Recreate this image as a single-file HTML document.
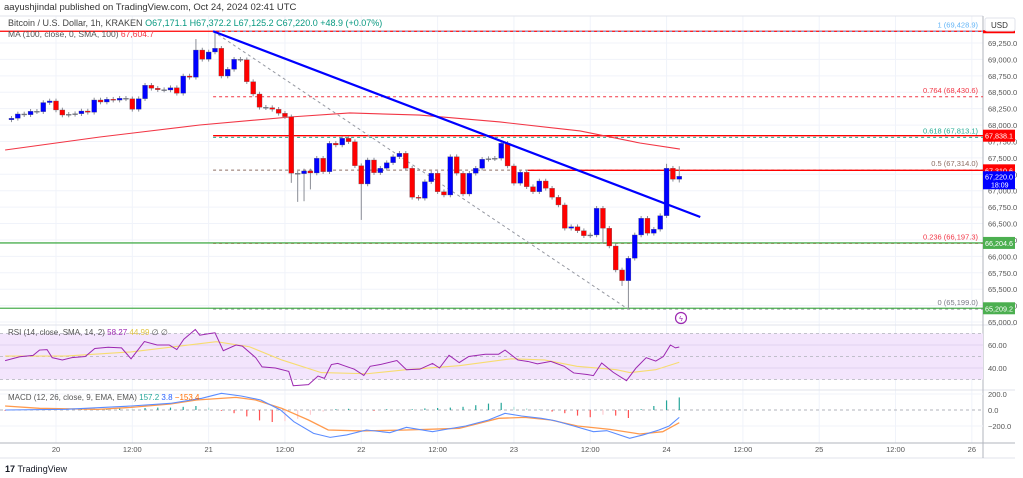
<!DOCTYPE html>
<html><head><meta charset="utf-8">
<style>
html,body{margin:0;padding:0;background:#fff;width:1023px;height:478px;overflow:hidden;font-family:"Liberation Sans",sans-serif;}
svg text{font-family:"Liberation Sans",sans-serif;}
</style></head>
<body>
<svg id="chart" width="1023" height="478" viewBox="0 0 1023 478" xmlns="http://www.w3.org/2000/svg">
<rect x="0" y="0" width="1023" height="478" fill="#ffffff"/>
<text x="4" y="10" font-size="9.5" fill="#333">aayushjindal published on TradingView.com, Oct 24, 2024 02:41 UTC</text>
<g id="grid"></g>
<g id="levels"></g>
<g id="candles"></g>
<g id="lower"></g>
<g id="axis"></g>
<text x="8" y="26" font-size="9" fill="#444">Bitcoin / U.S. Dollar, 1h, KRAKEN <tspan fill="#089981">O67,171.1 H67,372.2 L67,125.2 C67,220.0 +48.9 (+0.07%)</tspan></text>
<text x="8" y="37" font-size="8.5" fill="#555">MA (100, close, 0, SMA, 100) <tspan fill="#f23645">67,604.7</tspan></text>
<text x="8" y="335" font-size="8" fill="#555">RSI (14, close, SMA, 14, 2) <tspan fill="#9c27b0">58.27</tspan> <tspan fill="#e0c341">44.99</tspan> ∅ ∅</text>
<text x="8" y="400" font-size="8" fill="#555">MACD (12, 26, close, 9, EMA, EMA) <tspan fill="#26a69a">157.2</tspan> <tspan fill="#2962ff">3.8</tspan> <tspan fill="#ff6d00">−153.4</tspan></text>
<text x="5" y="472" font-size="9" fill="#131722" font-weight="bold">17 <tspan font-weight="normal">TradingView</tspan></text>
<g><rect x="985" y="18" width="30" height="13" fill="#fff" stroke="#e0e3eb" rx="2"/><text x="991" y="28" font-size="8" fill="#333">USD</text></g>
<circle cx="681" cy="318" r="5.5" fill="none" stroke="#9c27b0" stroke-width="1.2"/>
<text x="681" y="321" font-size="7" fill="#9c27b0" text-anchor="middle">ϟ</text>
</svg>
<script>
// ---- data ----
const closes=[68103,68169,68158,68210,68204,68343,68367,68230,68153,68164,68173,68214,68195,68382,68351,68393,68380,68408,68400,68240,68402,68606,68560,68539,68534,68569,68484,68747,68728,69143,69002,69113,69169,68747,68849,69002,68995,68661,68473,68271,68265,68240,68179,68128,67266,67260,67301,67270,67494,67290,67722,67697,67799,67747,67381,67103,67468,67275,67342,67427,67518,67570,67342,66900,66885,67138,67266,66985,66935,67518,67266,66950,67266,67342,67479,67488,67494,67722,67377,67113,67281,67061,66985,67148,67037,66900,66783,66428,66452,66391,66315,66326,66732,66428,66158,65793,65630,65971,66326,66580,66352,66413,66620,67342,67174,67220];
const firstOpen=68080;
const highOverrides={32:69428.9,29:69310,105:67372.2,44:68160,103:67410};
const lowOverrides={97:65199,96:65550,44:67120,45:66830,46:66840,47:67020,55:66555,105:67125.2,93:66200};
const startHour=-7;
const maHours=[-8,6.9,22.6,36.8,46.2,57.2,69.8,82.4,91.8,98.1];
const maValues=[67620,67818,68001,68123,68184,68153,68047,67910,67727,67635];
const priceTicks=[65000,65250,65500,65750,66000,66250,66500,66750,67000,67250,67500,67750,68000,68250,68500,68750,69000,69250];
const timeHours=[0,12,24,36,48,60,72,84,96,108,120,132,144];
const timeLabels=["20","12:00","21","12:00","22","12:00","23","12:00","24","12:00","25","12:00","26"];
const fibLevels=[1,0.764,0.618,0.5,0.236,0];
const fibPrices=[69428.9,68430.6,67813.1,67314.0,66197.3,65199.0];
const fibColors=["#64b5f6","#f23645","#22ab94","#8d6e63","#f23645","#787b86"];
const rsiHours=[-8,-5.7,-3.6,-2.6,-1.4,-0.6,1,2.5,4.6,6.1,8.2,10.3,11.8,13.9,15.9,17.8,19,20.1,21.9,22.6,24.2,25,26.3,28.3,29.3,31.4,32.4,34.5,36.6,37.3,39.7,41.2,42.2,43.3,44.3,45.3,46.9,48.4,49.4,51,53.6,55.1,57.2,59.2,60.3,61.8,63.4,64.9,67.5,69.6,70.6,72.6,74.2,75.7,77.8,79.9,81.4,83.5,84.5,85.8,87.6,89.7,91.2,92.8,94.3,95.5,96.6,97.4,98];
const rsiValues=[46.4,49.8,51,55.6,56,49,47,49,50,57,58,57.5,48,63,60,60,56,65,73.5,68.5,70,70.6,55,60,59,49,41,40,37,24.6,25.5,33,31,43,44,42,39,33.5,41.5,43,46.5,38.5,39,44,40,51,44.7,50,52,52,55.6,47,45.7,43.6,45.7,41.5,35.7,34.3,33.4,44.4,36.3,29,40,49,46,50,60,57.5,58.3];
const rsiMaHours=[-8,1.5,11.8,25.2,30.4,35.5,41.7,48.9,55.1,63.4,71.6,76.8,81.9,88.1,90.2,94.3,98];
const rsiMaValues=[50.4,50.4,54,62.9,58.5,47,36,35,38.5,42,48,47,41.5,38.5,36,38.5,45];
const macdHours=[-8,1.5,11.8,18,22.9,26,29.1,32.2,35.3,37.4,40.5,43.1,45.7,48.8,52.5,55.1,59.2,61.3,64.4,68,70.6,73.2,76.3,78.4,81.4,84.5,86.6,90.2,92.3,94.8,96.4,98];
const macdValues=[0,8,50,83,146,208,175,125,0,-146,-292,-342,-312,-250,-283,-217,-271,-242,-200,-125,-42,-75,-104,-133,-200,-271,-258,-354,-312,-250,-200,-92];
const signalHours=[-8,-2.6,6.6,11.8,18,22.1,28.3,31.4,35.5,39.7,42.8,48,55.1,63.4,69.6,73.7,77.8,82,87.1,91.8,95.4,98];
const signalValues=[50,21,8,33,75,125,158,125,21,-125,-250,-262,-250,-229,-104,-92,-125,-200,-242,-300,-271,-158];
const histHours=[-8,-6,-4,-2,0,2,4,6,8,10,12,14,16,18,20,22,24,26,28,30,32,34,36,38,40,42,44,46,48,50,52,54,56,58,60,62,64,66,68,70,72,74,76,78,80,82,84,86,88,90,92,94,96,98];
const histValues=[-10,-5,5,10,10,5,10,15,15,20,15,25,30,30,40,50,30,-10,-40,-80,-130,-150,-140,-110,-60,-20,10,15,0,-10,10,5,10,20,25,30,40,60,80,90,40,20,10,-20,-40,-70,-90,-60,-70,-100,10,50,120,157];
const macdTicks=[200,0,-200];
const macdTickLabels=["200.0","0.0","−200.0"];
const rsiTicks=[60,40];

// ---- scales ----
const NS="http://www.w3.org/2000/svg";
const AXIS_X=983;
const xH=h=>56+h*6.36;
const xI=i=>xH(startHour+i);
const yP=p=>43+(69250-p)*0.06565;
const yR=v=>345-(v-60)*1.15;
const yM=v=>410-v*0.08;
function el(tag,attrs,parent){const e=document.createElementNS(NS,tag);for(const k in attrs)e.setAttribute(k,attrs[k]);parent.appendChild(e);return e;}
const grid=document.getElementById('grid'),levels=document.getElementById('levels'),cg=document.getElementById('candles'),lower=document.getElementById('lower'),axis=document.getElementById('axis');

priceTicks.forEach(p=>{const l=el('line',{x1:0,x2:AXIS_X,y1:yP(p),y2:yP(p),stroke:'#f0f3fa','stroke-width':1},grid);

});
timeHours.forEach((h,k)=>{const l=el('line',{x1:xH(h),x2:xH(h),y1:16,y2:443,stroke:'#f0f3fa','stroke-width':1},grid);


const t=el('text',{x:xH(h),y:452,'font-size':7.5,fill:'#555','text-anchor':'middle'},axis);t.textContent=timeLabels[k];

});
[[0,16,AXIS_X,16],[0,325,1015,325],[0,390,1015,390],[0,443,1015,443],[0,458,1015,458],[AXIS_X,16,AXIS_X,458]].forEach(s=>{const l=el('line',{x1:s[0],y1:s[1],x2:s[2],y2:s[3],stroke:s[1]===443||s[0]===AXIS_X?'#b2b5be':'#e0e3eb','stroke-width':1},grid);

});

priceTicks.forEach(p=>{const t=el('text',{x:988,y:yP(p)+3,'font-size':7.5,fill:'#555'},axis);t.textContent=p.toLocaleString('en-US')+'.0';

});

const hl=(p,x0,color,w,dash)=>{const l=el('line',{x1:x0,x2:AXIS_X,y1:yP(p),y2:yP(p),stroke:color,'stroke-width':w},levels);if(dash)l.setAttribute('stroke-dasharray',dash);return l;};
let l1=hl(69428.9,0,'#ff0000',1.3);
const fibX=xH(24.7);
fibPrices.forEach((p,k)=>{const l=hl(p,fibX,fibColors[k],1,'3,3');


const t=el('text',{x:978,y:yP(p)-4,'font-size':7.5,fill:fibColors[k],'text-anchor':'end'},levels);t.textContent=fibLevels[k]+' ('+p.toLocaleString('en-US',{minimumFractionDigits:1})+')';

});
let l2=hl(67838.1,fibX,'#ff0000',1.3);
let l3=hl(67310.6,xH(74.2),'#ff0000',1.3);
let l4=hl(66204.6,0,'#4caf50',1.3);
let l5=hl(65209.2,0,'#4caf50',1.3);

const maPath=el('polyline',{points:maHours.map((h,k)=>xH(h)+','+yP(maValues[k])).join(' '),fill:'none',stroke:'#f23645','stroke-width':1.1},levels);



const dg=el('line',{x1:fibX,y1:yP(69428.9),x2:xH(89.9),y2:yP(65199),stroke:'#9598a1','stroke-width':1,'stroke-dasharray':'3,3'},levels);



let prev=firstOpen;
closes.forEach((c,i)=>{const o=prev;prev=c;const x=xI(i);
const hi=highOverrides[i]!==undefined?highOverrides[i]:Math.max(o,c)+35;
const lo=lowOverrides[i]!==undefined?lowOverrides[i]:Math.min(o,c)-35;
const up=c>=o;const col=Math.abs(c-o)<12?'#787b86':(up?'#0000ff':'#ff0000');
const w=el('line',{x1:x,x2:x,y1:yP(hi),y2:yP(lo),stroke:'#8a8d96','stroke-width':1},cg);


const top=yP(Math.max(o,c)),bh=Math.max(1,yP(Math.min(o,c))-top);
const b=el('rect',{x:x-2.5,y:top,width:5,height:bh,fill:col,stroke:'#5d606b','stroke-width':0.3},cg);

});

const tl=el('line',{x1:fibX,y1:yP(69428.9),x2:xH(101.3),y2:yP(66600),stroke:'#0000ff','stroke-width':2.2},cg);



[[67838.1,'#ff0000','67,838.1'],[67310.6,'#ff0000','67,310.6'],[66204.6,'#4caf50','66,204.6'],[65209.2,'#4caf50','65,209.2']].forEach(b=>{const y=yP(b[0]);
const r=el('rect',{x:AXIS_X,y:y-6,width:32,height:12,fill:b[1]},axis);


const t=el('text',{x:985,y:y+3,'font-size':7,fill:'#fff',textLength:28,lengthAdjust:'spacingAndGlyphs'},axis);t.textContent=b[2];

});
const tb=el('rect',{x:AXIS_X,y:yP(67220)-5,width:32,height:18,fill:'#0000ff'},axis);


const tt=el('text',{x:985,y:yP(67220)+3,'font-size':7,fill:'#fff',textLength:28,lengthAdjust:'spacingAndGlyphs'},axis);tt.textContent='67,220.0';


const tt2=el('text',{x:991,y:yP(67220)+11,'font-size':7,fill:'#fff'},axis);tt2.textContent='18:09';


const topBox=el('rect',{x:AXIS_X,y:yP(69428.9)-1,width:32,height:3,fill:'#ff0000'},axis);



const band=el('rect',{x:0,y:yR(70),width:AXIS_X,height:yR(30)-yR(70),fill:'#f3e5fc'},lower);


[70,50,30].forEach(v=>{const l=el('line',{x1:0,x2:AXIS_X,y1:yR(v),y2:yR(v),stroke:'#b0b3bb','stroke-width':0.8,'stroke-dasharray':'3,3'},lower);

});
rsiTicks.forEach(v=>{const l=el('line',{x1:0,x2:AXIS_X,y1:yR(v),y2:yR(v),stroke:'#e2d3ef','stroke-width':1},lower);


const t=el('text',{x:988,y:yR(v)+3,'font-size':7.5,fill:'#555'},axis);t.textContent=v.toFixed(2);

});
const rma=el('polyline',{points:rsiMaHours.map((h,k)=>xH(h)+','+yR(rsiMaValues[k])).join(' '),fill:'none',stroke:'#f7dc6f','stroke-width':1.1},lower);


const rl=el('polyline',{points:rsiHours.map((h,k)=>xH(h)+','+yR(rsiValues[k])).join(' '),fill:'none',stroke:'#9c27b0','stroke-width':1},lower);



macdTicks.forEach((v,k)=>{const l=el('line',{x1:0,x2:AXIS_X,y1:yM(v),y2:yM(v),stroke:v===0?'#b0b3bb':'#f0f3fa','stroke-width':1,'stroke-dasharray':v===0?'3,3':'none'},lower);


const t=el('text',{x:988,y:yM(v)+3,'font-size':7.5,fill:'#555'},axis);t.textContent=macdTickLabels[k];

});
histHours.forEach((h,k)=>{const v=histValues[k];const pv=k>0?histValues[k-1]:0;
const col=v>=0?(v>=pv?'#26a69a':'#b2dfdb'):(v<=pv?'#ff5252':'#ffcdd2');
const b=el('line',{x1:xH(h),x2:xH(h),y1:yM(0),y2:yM(v),stroke:col,'stroke-width':1.2},lower);

});
const sl=el('polyline',{points:signalHours.map((h,k)=>xH(h)+','+yM(signalValues[k])).join(' '),fill:'none',stroke:'#ff9a4d','stroke-width':1.3},lower);


const ml=el('polyline',{points:macdHours.map((h,k)=>xH(h)+','+yM(macdValues[k])).join(' '),fill:'none',stroke:'#5b8cff','stroke-width':1.1},lower);


</script>
</body></html>
